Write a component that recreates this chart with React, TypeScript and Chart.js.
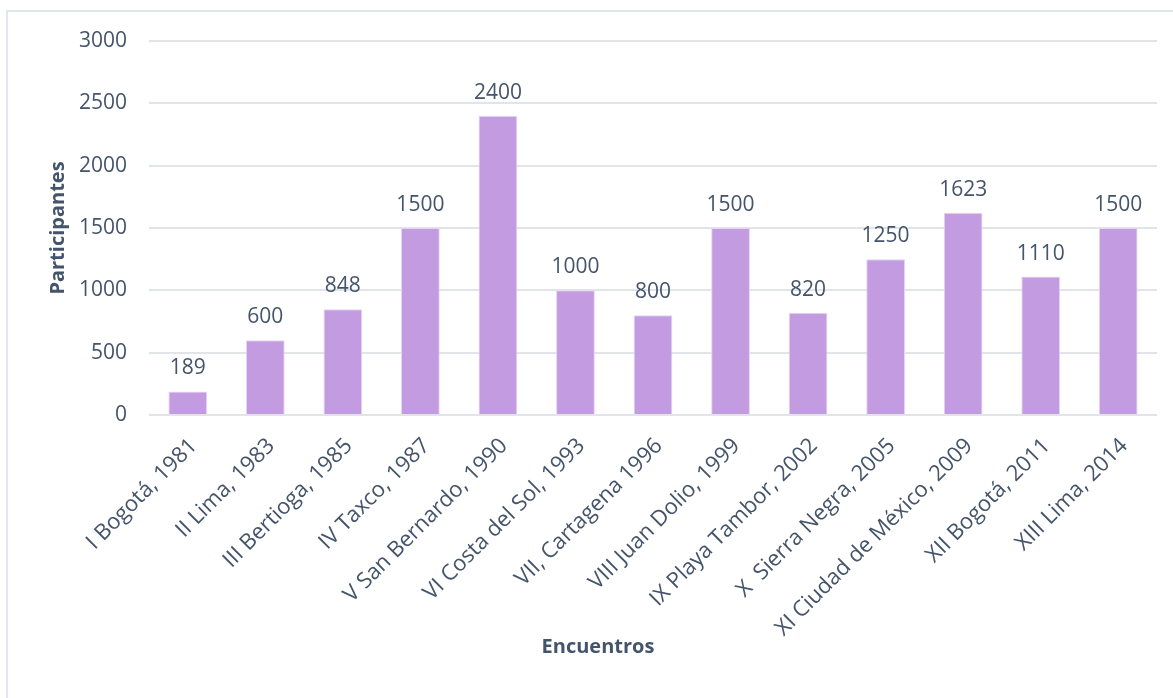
import React, { useEffect, useRef } from "react";
import { Chart, registerables } from "chart.js";

Chart.register(...registerables);

const categories = [
  "I Bogotá, 1981",
  "II Lima, 1983",
  "III Bertioga, 1985",
  "IV Taxco, 1987",
  "V San Bernardo, 1990",
  "VI Costa del Sol, 1993",
  "VII, Cartagena 1996",
  "VIII Juan Dolio, 1999",
  "IX Playa Tambor, 2002",
  "X  Sierra Negra, 2005",
  "XI Ciudad de México, 2009",
  "XII Bogotá, 2011",
  "XIII Lima, 2014",
];
const participantes = [189, 600, 848, 1500, 2400, 1000, 800, 1500, 820, 1250, 1623, 1110, 1500];
const yTicks = [0, 500, 1000, 1500, 2000, 2500, 3000];

const TEXT = "#44546A";
const FONT = "'Open Sans', sans-serif";

const valueLabels = {
  id: "valueLabels",
  afterDatasetsDraw(chart: any) {
    const ctx = chart.ctx;
    const meta = chart.getDatasetMeta(0);
    ctx.save();
    ctx.font = `21px ${FONT}`;
    ctx.fillStyle = TEXT;
    ctx.textAlign = "center";
    ctx.textBaseline = "alphabetic";
    meta.data.forEach((bar: any, i: number) => {
      ctx.fillText(String(participantes[i]), bar.x, bar.y - 17);
    });
    ctx.restore();
  },
};

const xTitle = {
  id: "xTitle",
  afterDraw(chart: any) {
    const ctx = chart.ctx;
    ctx.save();
    ctx.font = `bold 20px ${FONT}`;
    ctx.fillStyle = TEXT;
    ctx.textAlign = "center";
    ctx.textBaseline = "alphabetic";
    ctx.fillText("Encuentros", 598, 653);
    ctx.restore();
  },
};

export default function App() {
  const ref = useRef<HTMLCanvasElement | null>(null);
  useEffect(() => {
    if (!ref.current) return;
    const chart = new Chart(ref.current, {
      type: "bar",
      data: {
        labels: categories,
        datasets: [
          {
            data: participantes,
            backgroundColor: "#C39BE0",
            borderColor: "#E6D3F5",
            borderWidth: 1,
            barPercentage: 0.5,
            categoryPercentage: 1,
          },
        ],
      },
      plugins: [valueLabels, xTitle],
      options: {
        animation: false,
        responsive: false,
        layout: { padding: { left: 46, top: 41, right: 16, bottom: 0 } },
        plugins: { legend: { display: false }, tooltip: { enabled: false } },
        scales: {
          x: {
            grid: { display: false, drawTicks: false },
            border: { display: false },
            ticks: {
              color: TEXT,
              font: { family: FONT, size: 22 },
              minRotation: 45,
              maxRotation: 45,
              padding: 18,
              labelOffset: 6,
              autoSkip: false,
            },
            afterFit: (scale: any) => {
              scale.height = 283;
            },
          },
          y: {
            min: 0,
            max: 3000,
            afterBuildTicks: (scale: any) => {
              scale.ticks = yTicks.map((v) => ({ value: v }));
            },
            grid: { color: "#E1E5EA", lineWidth: 2, drawTicks: false },
            border: { display: false },
            ticks: {
              color: TEXT,
              font: { family: FONT, size: 21 },
              padding: 22,
              callback: (v: any) => String(v),
            },
            title: {
              display: true,
              text: "Participantes",
              color: TEXT,
              font: { family: FONT, size: 20, weight: "bold" },
              padding: 0,
            },
            afterFit: (scale: any) => {
              scale.width = 103;
            },
          },
        },
      },
    });
    return () => chart.destroy();
  }, []);

  return (
    <div style={{ position: "fixed", left: 0, top: 0, width: 1173, height: 698, background: "#fff", overflow: "hidden" }}>
      <div
        style={{
          position: "absolute",
          left: 6,
          top: 10,
          width: 1200,
          height: 720,
          borderLeft: "2px solid #E3E7EC",
          borderTop: "2px solid #E3E7EC",
        }}
      />
      <canvas ref={ref} width={1173} height={698} style={{ position: "absolute", left: 0, top: 0 }} />
    </div>
  );
}
